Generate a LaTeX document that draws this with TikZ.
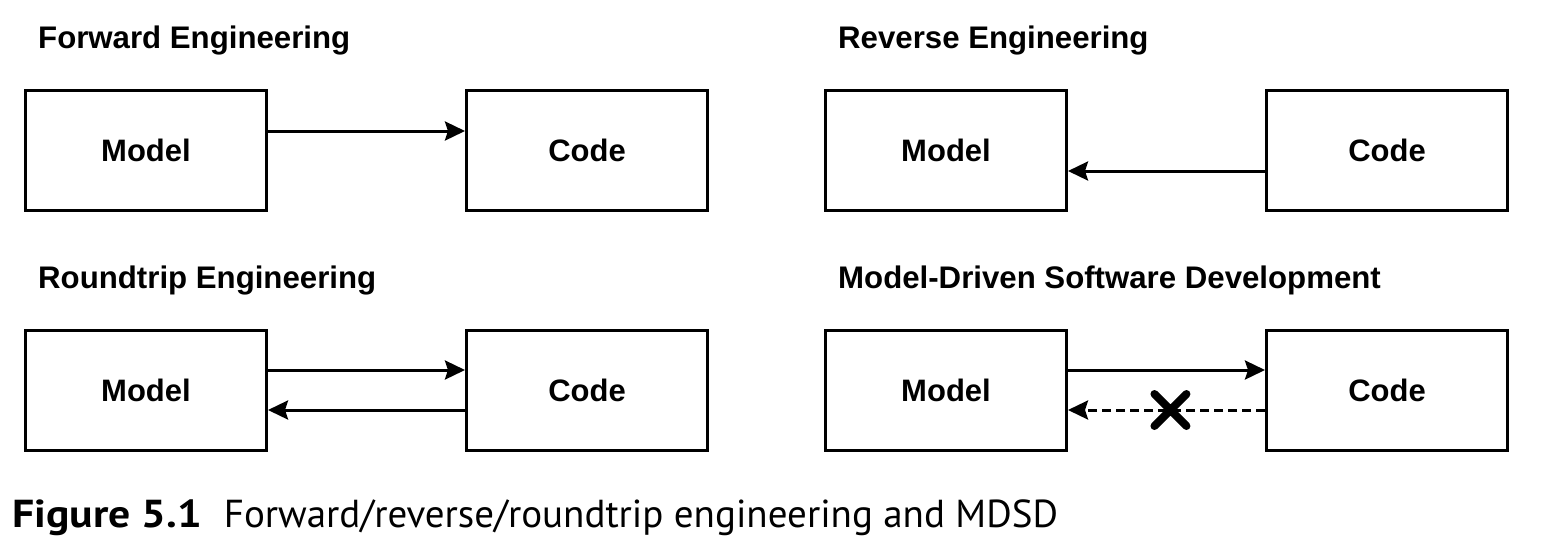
\documentclass[tikz,border=0pt]{standalone}
\usepackage{fontspec}
\setmainfont{Liberation Sans}
\newfontfamily\capfont{PT Sans}
\usetikzlibrary{arrows.meta,positioning}

\tikzset{
  box/.style={draw, line width=3pt, minimum width=241pt, minimum height=120pt, font=\fontsize{31}{36}\selectfont\bfseries},
  heading/.style={anchor=base west, inner sep=0pt, font=\fontsize{31.2}{36}\selectfont\bfseries},
  flow/.style={line width=3pt, -{Stealth[length=20pt,width=19pt,inset=3pt]}}
}

\begin{document}
\begin{tikzpicture}[x=1pt, y=-1pt]
    \useasboundingbox (0,0) rectangle (1542,550);
    \foreach \x/\y/\i/\title in {0/0/1/Forward Engineering,800/0/2/Reverse Engineering,0/240/3/Roundtrip Engineering,800/240/4/Model-Driven Software Development} {
      \node[heading] (t\i) at (38+\x,48+\y) {\title};
      \node[box] (m\i) at (146+\x,150+\y) {Model};
      \node[box] (c\i) at (587+\x,150+\y) {Code};
    }
    \draw[flow] ([yshift=19pt]m1.east) -- ([yshift=19pt]m1.east -| c1.west);
    \draw[flow] ([yshift=-21pt]c2.west) -- ([yshift=-21pt]c2.west -| m2.east);
    \draw[flow] ([yshift=20pt]m3.east) -- ([yshift=20pt]m3.east -| c3.west);
    \draw[flow] ([yshift=-20pt]c3.west) -- ([yshift=-20pt]c3.west -| m3.east);
    \draw[flow] ([yshift=20pt]m4.east) -- ([yshift=20pt]m4.east -| c4.west);
    \draw[flow, dash pattern=on 9pt off 5pt] ([yshift=-20pt]c4.west) -- coordinate[pos=.48] (no) ([yshift=-20pt]c4.west -| m4.east);
    % the forbidden way back
    \draw[line width=8pt, line cap=round] ([shift={(-16pt,16pt)}]no) -- ([shift={(16pt,-16pt)}]no)
      ([shift={(-16pt,-16pt)}]no) -- ([shift={(16pt,16pt)}]no);
    \node[anchor=base west, inner sep=0pt, font=\capfont\fontsize{39}{42}\selectfont] (cap) at (12,527)
      {\scalebox{1.12}[1]{\textbf{Figure 5.1}}\hspace{22pt}Forward/reverse/roundtrip engineering and MDSD};
\end{tikzpicture}
\end{document}
